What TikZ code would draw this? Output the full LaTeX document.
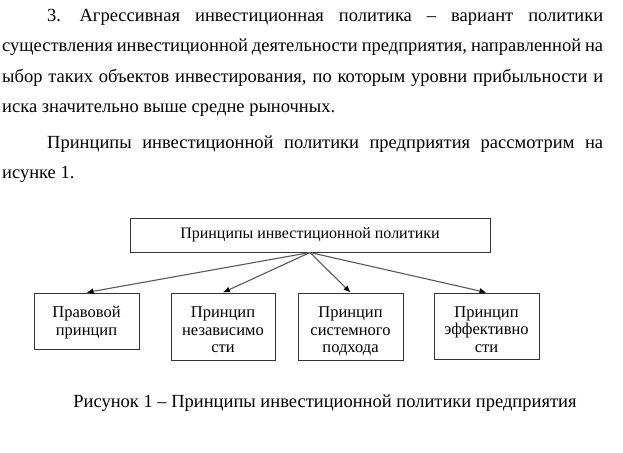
\documentclass[tikz,border=0pt]{standalone}
\usepackage{fontspec}
\setmainfont{Liberation Serif}
\usetikzlibrary{arrows.meta}

\begin{document}
\begin{tikzpicture}[x=1pt, y=-1pt,
	txt/.style={anchor=base west, inner sep=0pt, font=\fontsize{18.5}{20}\selectfont},
	box/.style={draw=black!80, line width=1pt, align=center, inner sep=1pt, font=\fontsize{16.5}{17.5}\selectfont},
	link/.style={draw=black!65, line width=1.1pt, -{Latex[length=7pt,width=6pt,color=black]}}]
	\useasboundingbox[fill=white] (0,0) rectangle (623,452);
	% text above the figure
	\node[txt] (l1) at (47,22) {\makebox[556pt][s]{3.\quad Агрессивная инвестиционная политика – вариант политики}};
	\node[txt] (l2) at (2,52) {\makebox[601pt][s]{существления инвестиционной деятельности предприятия, направленной на}};
	\node[txt] (l3) at (2,82) {\makebox[601pt][s]{ыбор таких объектов инвестирования, по которым уровни прибыльности и}};
	\node[txt] (l4) at (2,112) {иска значительно выше средне рыночных.};
	\node[txt] (l5) at (47,148) {\makebox[556pt][s]{Принципы инвестиционной политики предприятия рассмотрим на}};
	\node[txt] (l6) at (2,178) {исунке 1.};
	% scheme
	\node[box, font=\fontsize{16}{17.5}\selectfont, minimum width=360pt, minimum height=34pt] (main) at (310,235) {Принципы инвестиционной политики};
	\node[box, minimum width=105pt, minimum height=56pt] (p1) at (86.5,321) {\rule{0pt}{16pt}Правовой\\принцип\strut};
	\node[box, minimum width=104pt, minimum height=67pt] (p2) at (223,326.5) {\rule{0pt}{23pt}Принцип\\независимо\\сти\strut};
	\node[box, minimum width=105pt, minimum height=67pt] (p3) at (350.5,326.5) {\rule{0pt}{23pt}Принцип\\системного\\подхода\strut};
	\node[box, minimum width=105pt, minimum height=66pt] (p4) at (486.5,326) {\rule{0pt}{23pt}Принцип\\эффективно\\сти\strut};
	\foreach \p in {p1,p2,p3,p4}
		\draw[link] (main.south) -- (\p.north);
	% caption
	\node[txt, anchor=base] (cap) at (325,407) {Рисунок 1 – Принципы инвестиционной политики предприятия};
\end{tikzpicture}
\end{document}
